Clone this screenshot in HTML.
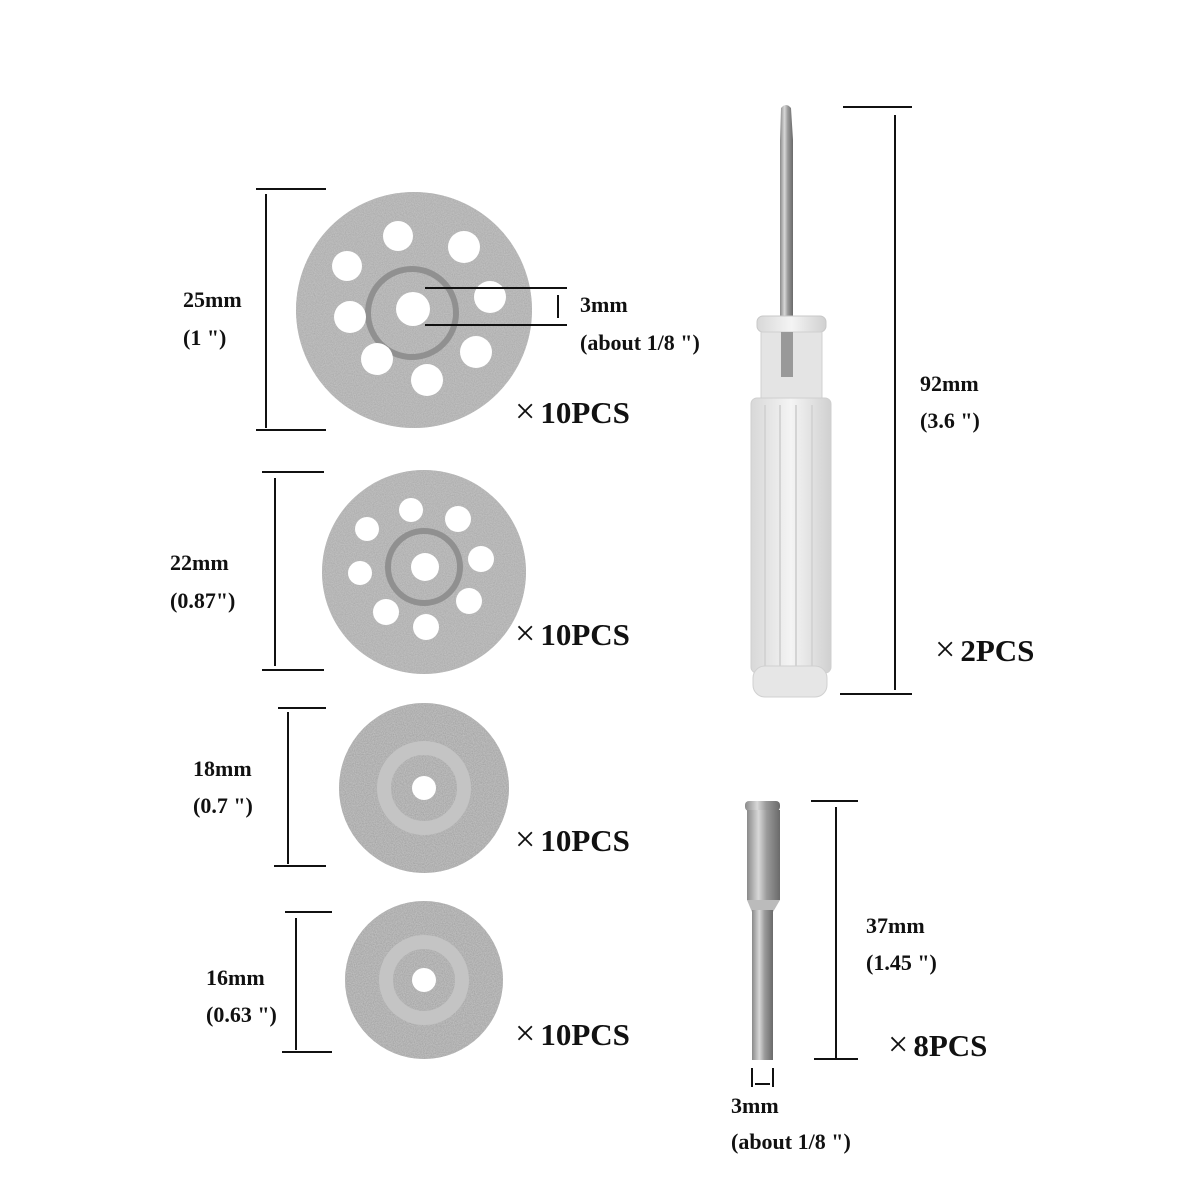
<!DOCTYPE html>
<html><head><meta charset="utf-8"><style>
html,body{margin:0;padding:0;background:#fff}
svg{display:block}
text{font-family:"Liberation Serif",serif;font-weight:bold;fill:#111}
</style></head><body>
<svg width="1200" height="1200" viewBox="0 0 1200 1200" xmlns="http://www.w3.org/2000/svg">
<defs>
<filter id="grain" x="0" y="0" width="100%" height="100%">
<feTurbulence type="fractalNoise" baseFrequency="0.9" numOctaves="2" seed="3" result="n"/>
<feColorMatrix type="matrix" values="0 0 0 0 0.55  0 0 0 0 0.55  0 0 0 0 0.55  0 0 0 -1.2 1.1" in="n" result="g"/>
<feComposite in="g" in2="SourceGraphic" operator="in" result="gg"/>
<feMerge><feMergeNode in="SourceGraphic"/><feMergeNode in="gg"/></feMerge>
</filter>
<linearGradient id="metal" x1="0" x2="1">
<stop offset="0" stop-color="#8a8a8a"/><stop offset="0.35" stop-color="#d8d8d8"/><stop offset="0.6" stop-color="#9a9a9a"/><stop offset="1" stop-color="#6a6a6a"/>
</linearGradient>
<linearGradient id="clear" x1="0" x2="1">
<stop offset="0" stop-color="#d8d8d8"/><stop offset="0.5" stop-color="#f4f4f4"/><stop offset="1" stop-color="#d0d0d0"/>
</linearGradient>
</defs>
<g filter="url(#grain)">
<circle cx="414" cy="310" r="118" fill="#a9a9a9"/>
<circle cx="424" cy="572" r="102" fill="#a9a9a9"/>
<circle cx="424" cy="788" r="85" fill="#a0a0a0"/>
<circle cx="424" cy="980" r="79" fill="#a0a0a0"/>
</g>
<g fill="none" stroke="#c8c8c8">
<circle cx="412" cy="313" r="44" stroke-width="6" stroke="#909090"/>
<circle cx="424" cy="567" r="36" stroke-width="6" stroke="#909090"/>
<circle cx="424" cy="788" r="40" stroke-width="14" stroke="#c4c4c4"/>
<circle cx="424" cy="980" r="38" stroke-width="14" stroke="#c4c4c4"/>
</g>
<g fill="#fff">
<circle cx="413" cy="309" r="17"/>
<circle cx="398" cy="236" r="15"/><circle cx="464" cy="247" r="16"/><circle cx="490" cy="297" r="16"/><circle cx="347" cy="266" r="15"/>
<circle cx="350" cy="317" r="16"/><circle cx="377" cy="359" r="16"/><circle cx="427" cy="380" r="16"/><circle cx="476" cy="352" r="16"/>
<circle cx="425" cy="567" r="14"/>
<circle cx="411" cy="510" r="12"/><circle cx="458" cy="519" r="13"/><circle cx="481" cy="559" r="13"/><circle cx="367" cy="529" r="12"/>
<circle cx="360" cy="573" r="12"/><circle cx="386" cy="612" r="13"/><circle cx="426" cy="627" r="13"/><circle cx="469" cy="601" r="13"/>
<circle cx="424" cy="788" r="12"/>
<circle cx="424" cy="980" r="12"/>
</g>
<g stroke="#111" stroke-width="2" fill="none">
<line x1="256" y1="189" x2="326" y2="189"/><line x1="256" y1="430" x2="326" y2="430"/><line x1="266" y1="194" x2="266" y2="428"/>
<line x1="425" y1="288" x2="567" y2="288"/><line x1="425" y1="325" x2="567" y2="325"/><line x1="558" y1="295" x2="558" y2="318"/>
<line x1="262" y1="472" x2="324" y2="472"/><line x1="262" y1="670" x2="324" y2="670"/><line x1="275" y1="478" x2="275" y2="666"/>
<line x1="278" y1="708" x2="326" y2="708"/><line x1="274" y1="866" x2="326" y2="866"/><line x1="288" y1="712" x2="288" y2="864"/>
<line x1="285" y1="912" x2="332" y2="912"/><line x1="282" y1="1052" x2="332" y2="1052"/><line x1="296" y1="918" x2="296" y2="1050"/>
<line x1="843" y1="107" x2="912" y2="107"/><line x1="840" y1="694" x2="912" y2="694"/><line x1="895" y1="115" x2="895" y2="690"/>
<line x1="811" y1="801" x2="858" y2="801"/><line x1="814" y1="1059" x2="858" y2="1059"/><line x1="836" y1="807" x2="836" y2="1058"/>
<line x1="752" y1="1068" x2="752" y2="1087"/><line x1="773" y1="1068" x2="773" y2="1087"/><line x1="755" y1="1084" x2="770" y2="1084"/>
</g>
<path d="M781 108 Q786 102 791 108 L793 140 L793 330 L780 330 L780 140 Z" fill="url(#metal)"/>
<rect x="757" y="316" width="69" height="16" rx="6" fill="url(#clear)" stroke="#c8c8c8"/>
<rect x="761" y="332" width="61" height="66" fill="#e4e4e4" stroke="#d0d0d0"/>
<rect x="781" y="332" width="12" height="45" fill="#999"/>
<rect x="751" y="398" width="80" height="275" rx="6" fill="url(#clear)" stroke="#cfcfcf"/>
<g stroke="#d4d4d4" stroke-width="2"><line x1="765" y1="405" x2="765" y2="668"/><line x1="780" y1="405" x2="780" y2="668"/><line x1="796" y1="405" x2="796" y2="668"/><line x1="812" y1="405" x2="812" y2="668"/></g>
<rect x="753" y="666" width="74" height="31" rx="12" fill="#e6e6e6" stroke="#d0d0d0"/>
<rect x="745" y="801" width="35" height="10" rx="4" fill="url(#metal)"/>
<rect x="747" y="810" width="33" height="90" fill="url(#metal)"/>
<path d="M747 900 L752 912 L773 912 L780 900 Z" fill="#bbb"/>
<rect x="752" y="910" width="21" height="150" fill="url(#metal)"/>
<g font-size="22">
<text x="183" y="307">25mm</text><text x="183" y="345">(1 ")</text>
<text x="580" y="312">3mm</text><text x="580" y="350">(about 1/8 ")</text>
<text x="170" y="570">22mm</text><text x="170" y="608">(0.87")</text>
<text x="193" y="776">18mm</text><text x="193" y="813">(0.7 ")</text>
<text x="206" y="985">16mm</text><text x="206" y="1022">(0.63 ")</text>
<text x="920" y="391">92mm</text><text x="920" y="428">(3.6 ")</text>
<text x="866" y="933">37mm</text><text x="866" y="970">(1.45 ")</text>
<text x="731" y="1113">3mm</text><text x="731" y="1149">(about 1/8 ")</text>
</g>
<g font-size="31">
<text x="515" y="423"><tspan font-size="36" font-weight="normal">×</tspan><tspan dx="5">10PCS</tspan></text>
<text x="515" y="645"><tspan font-size="36" font-weight="normal">×</tspan><tspan dx="5">10PCS</tspan></text>
<text x="515" y="851"><tspan font-size="36" font-weight="normal">×</tspan><tspan dx="5">10PCS</tspan></text>
<text x="515" y="1045"><tspan font-size="36" font-weight="normal">×</tspan><tspan dx="5">10PCS</tspan></text>
<text x="935" y="661"><tspan font-size="36" font-weight="normal">×</tspan><tspan dx="5">2PCS</tspan></text>
<text x="888" y="1056"><tspan font-size="36" font-weight="normal">×</tspan><tspan dx="5">8PCS</tspan></text>
</g>
</svg>
</body></html>
